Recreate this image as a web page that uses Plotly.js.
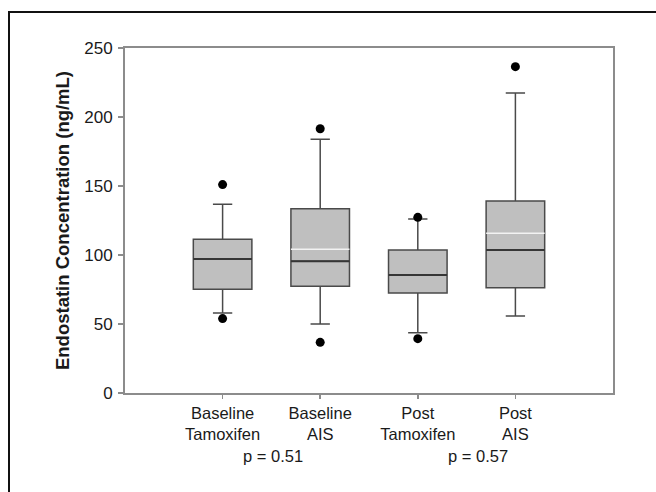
<!DOCTYPE html>
<html>
<head>
<meta charset="utf-8">
<script src="https://cdn.plot.ly/plotly-3.0.1.min.js"></script>
<style>
  html, body { margin: 0; padding: 0; background: #ffffff; }
  #wrap { position: relative; width: 656px; height: 492px; overflow: hidden; }
  #frame { position: absolute; left: 8px; top: 11px; width: 700px; height: 600px;
           border-left: 2px solid #111; border-top: 2px solid #111; pointer-events: none; }
  #chart { position: absolute; left: 0; top: 0; width: 656px; height: 492px; }
</style>
</head>
<body>
<div id="wrap">
  <div id="chart"></div>
  <div id="frame"></div>
</div>
<script>
// Data
const categories = ["Baseline<br>Tamoxifen", "Baseline<br>AIS", "Post<br>Tamoxifen", "Post<br>AIS"];
const lowerWhisker = [58, 50, 43.7, 55.8];
const q1Values     = [75.1, 77.3, 72.5, 76.3];
const medianValues = [97.1, 95.4, 85.5, 103.6];
const q3Values     = [111.4, 133.6, 103.6, 139.1];
const upperWhisker = [136.7, 183.8, 126, 217.4];
const meanValues   = [null, 104.1, null, 115.7];
const outlierGroup = [0, 0, 1, 1, 2, 2, 3];
const outlierValue = [151, 53.9, 191.5, 36.7, 127.3, 39.4, 236.5];
const pLabels = ["p = 0.51", "p = 0.57"];
const pPositions = [0.52, 2.62];

const pos = categories.map((c, i) => i);
const halfBox = 0.3;

function segments(vals) {
  const xs = [], ys = [];
  vals.forEach((v, i) => {
    if (v === null) return;
    xs.push(pos[i] - halfBox, pos[i] + halfBox, null);
    ys.push(v, v, null);
  });
  return {xs, ys};
}

const med = segments(medianValues);
const mn = segments(meanValues);

const traces = [
  {
    type: "box",
    x: pos,
    q1: q1Values,
    median: medianValues,
    q3: q3Values,
    lowerfence: lowerWhisker,
    upperfence: upperWhisker,
    width: 0.6,
    whiskerwidth: 0.33,
    fillcolor: "#bfbfbf",
    line: { color: "#4a4a4a", width: 1.5 },
    hoverinfo: "skip",
    showlegend: false
  },
  {
    type: "scatter", mode: "lines",
    x: mn.xs, y: mn.ys,
    line: { color: "#f2f2f2", width: 1.5 },
    hoverinfo: "skip", showlegend: false
  },
  {
    type: "scatter", mode: "lines",
    x: med.xs, y: med.ys,
    line: { color: "#363636", width: 2 },
    hoverinfo: "skip", showlegend: false
  },
  {
    type: "scatter", mode: "markers",
    x: outlierGroup.map(g => pos[g]), y: outlierValue,
    marker: { color: "#000000", size: 9 },
    hoverinfo: "skip", showlegend: false
  }
];

const font = { family: "Liberation Sans, Arial, sans-serif", color: "#1a1a1a" };

const layout = {
  width: 656, height: 492,
  margin: { l: 125, r: 43, t: 48, b: 99, pad: 0 },
  paper_bgcolor: "#ffffff",
  plot_bgcolor: "#ffffff",
  font: Object.assign({ size: 17 }, font),
  showlegend: false,
  xaxis: {
    range: [-1, 4],
    tickvals: pos,
    ticktext: categories,
    showgrid: false, zeroline: false,
    showline: true, mirror: true,
    linecolor: "#8c8c8c", linewidth: 2,
    ticks: "outside", ticklen: 4, tickwidth: 1.5, tickcolor: "#8c8c8c",
    tickfont: Object.assign({ size: 16.5 }, font),
    fixedrange: true
  },
  yaxis: {
    range: [0, 250],
    tickvals: [0, 50, 100, 150, 200, 250],
    showgrid: false, zeroline: false,
    showline: true, mirror: true,
    linecolor: "#8c8c8c", linewidth: 2,
    ticks: "outside", ticklen: 5, tickwidth: 1.5, tickcolor: "#8c8c8c",
    tickfont: Object.assign({ size: 17 }, font),
    ticklabelstandoff: 2,
    title: {
      text: "<b>Endostatin Concentration (ng/mL)</b>",
      font: Object.assign({ size: 18.5 }, font),
      standoff: 10
    },
    fixedrange: true
  },
  annotations: pLabels.map((t, i) => ({
    text: t, x: pPositions[i], xref: "x",
    y: -0.182, yref: "paper",
    xanchor: "center", yanchor: "middle",
    showarrow: false,
    font: Object.assign({ size: 16.5 }, font)
  }))
};

Plotly.newPlot("chart", traces, layout, { staticPlot: true, displayModeBar: false });
</script>
</body>
</html>
